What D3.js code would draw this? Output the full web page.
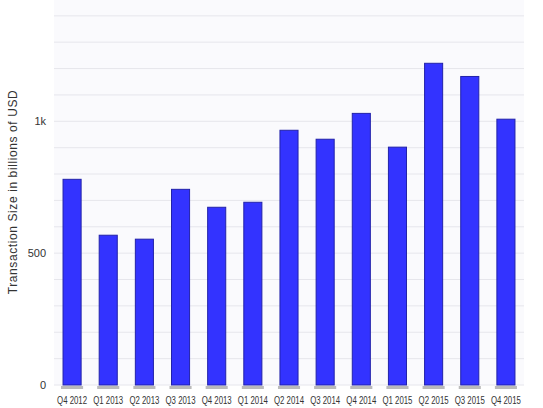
<!DOCTYPE html><html><head><meta charset="utf-8">
<script src="https://cdn.jsdelivr.net/npm/d3@7"></script>
<style>body{margin:0;background:#fff}</style></head><body><svg width="543" height="408"></svg>
<script>
const categories=["Q4 2012","Q1 2013","Q2 2013","Q3 2013","Q4 2013","Q1 2014","Q2 2014","Q3 2014","Q4 2014","Q1 2015","Q2 2015","Q3 2015","Q4 2015"];
const values=[780,568,553,742,674,693,966,932,1030,902,1220,1170,1008];
const yTicks=[0,500,1000];
const svg=d3.select("svg");
const L=54,R=524,T=0,B=385;
const x=d3.scaleBand().domain(categories).range([L,R]).paddingInner(0.5).paddingOuter(0.25);
const y=d3.scaleLinear().domain([0,1460]).range([B,T]);
svg.append("rect").attr("x",L).attr("y",T).attr("width",R-L).attr("height",B-T).attr("fill","#fafafd");
svg.append("g").selectAll("line").data(d3.range(0,1500,100)).join("line")
 .attr("x1",L).attr("x2",R).attr("y1",d=>y(d)).attr("y2",d=>y(d)).attr("stroke","#e6e6ec");
svg.append("g").selectAll("rect").data(categories).join("rect")
 .attr("x",d=>x(d)-2).attr("y",B+1).attr("width",x.bandwidth()+4).attr("height",3).attr("fill","#bbb");
svg.append("g").selectAll("rect").data(values).join("rect")
 .attr("x",(d,i)=>x(categories[i])).attr("y",d=>y(d)).attr("width",x.bandwidth()).attr("height",d=>B-y(d))
 .attr("fill","#3333ff").attr("stroke","#2222aa").attr("stroke-width",1);
svg.append("g").selectAll("text").data(yTicks).join("text")
 .attr("x",46).attr("y",d=>y(d)+4).attr("text-anchor","end").attr("font-family","Liberation Sans Narrow, Liberation Sans").attr("font-size",11).attr("fill","#333")
 .text(d=>d>=1000?(d/1000)+"k":d);
svg.append("g").selectAll("text").data(categories).join("text")
 .attr("x",d=>x(d)+x.bandwidth()/2).attr("y",404).attr("text-anchor","middle").attr("font-family","Liberation Sans Narrow, Liberation Sans").attr("font-size",10).attr("fill","#333")
 .attr("textLength",30).attr("lengthAdjust","spacingAndGlyphs").text(d=>d);
svg.append("text").attr("transform","translate(17,192) rotate(-90)").attr("text-anchor","middle")
 .attr("font-family","Liberation Sans").attr("font-size",12).attr("letter-spacing",0.6).attr("fill","#333").text("Transaction Size in billions of USD");
</script></body></html>
